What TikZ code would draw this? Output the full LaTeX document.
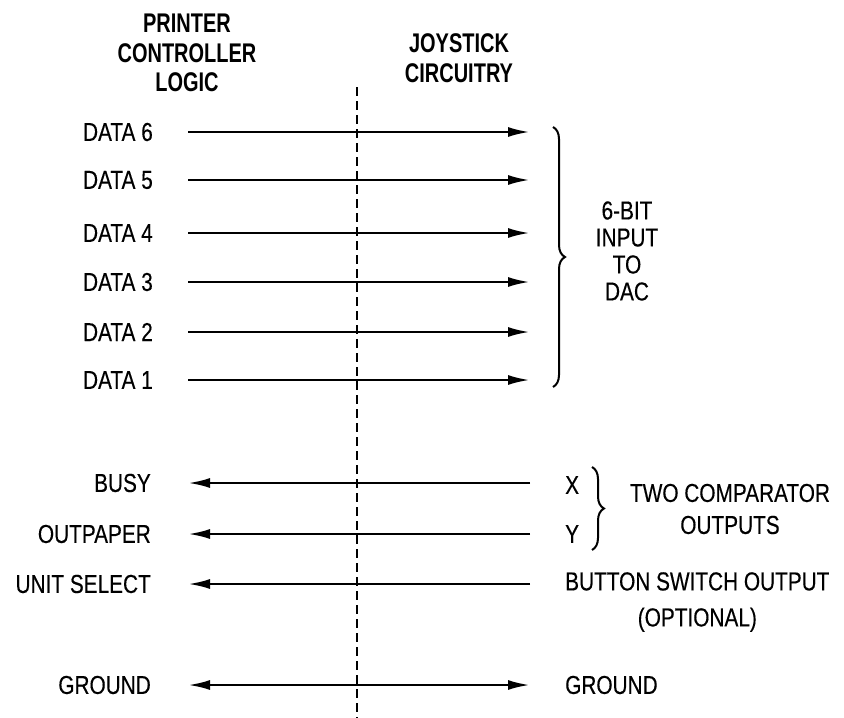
\documentclass[tikz,border=0pt]{standalone}
\usepackage{fontspec}
\setmainfont{Liberation Sans}[FakeStretch=0.8, FakeBold=0.3]
\newfontfamily\headfont{Liberation Sans}[FakeStretch=0.74]
\usetikzlibrary{arrows.meta,decorations.pathreplacing}

\tikzset{
  sig/.style={line width=2.6pt, -{Latex[length=22pt,width=10pt]}},
  lbl/.style={inner sep=0pt, font=\fontsize{26}{30}\selectfont},
  head/.style={inner sep=0pt, align=center, font=\headfont\bfseries\fontsize{27}{29.5}\selectfont},
  brc/.style={line width=2pt, decorate, decoration={brace, amplitude=12pt}},
}

\begin{document}
\begin{tikzpicture}[x=1pt,y=-1pt]
    \useasboundingbox (0,0) rectangle (844,718);

    % Headings
    \node[head] (pcl) at (187,53) {PRINTER\\CONTROLLER\\LOGIC};
    \node[head] (jc) at (459,58) {JOYSTICK\\CIRCUITRY};

    % Boundary between the two sides
    \coordinate (btop) at (357,87);
    \coordinate (bbot) at (357,718);
    \draw[line width=1.4pt, dash pattern=on 9pt off 5pt] (btop) -- (bbot);

    % Data lines to the DAC
    \foreach \n/\y in {6/132,5/180,4/233,3/282,2/332,1/380} {
        \node[lbl, anchor=east] (d\n) at (153,\y) {DATA \n};
        \coordinate (d\n s) at (188,\y);
        \coordinate (d\n e) at (530,\y);
        \draw[sig] (d\n s) -- (d\n e);
    }
    \draw[brc] (553,127) -- (553,387);
    \node[lbl, align=center, font=\fontsize{26}{27}\selectfont] (dac) at (627,251) {6-BIT\\INPUT\\TO\\DAC};

    % Status lines back to the printer
    \foreach \k/\t/\y in {busy/BUSY/483, paper/OUTPAPER/534, unit/UNIT SELECT/584} {
        \node[lbl, anchor=east] (\k) at (151,\y) {\t};
        \coordinate (\k s) at (530,\y);
        \coordinate (\k e) at (188,\y);
        \draw[sig] (\k s) -- (\k e);
    }
    \node[lbl, anchor=west] (x) at (565,485) {X};
    \node[lbl, anchor=west] (y) at (565,534) {Y};
    \draw[brc] (592,467) -- (592,550);
    \node[lbl, align=center, font=\fontsize{26}{32}\selectfont] (cmp) at (730,509) {TWO COMPARATOR\\OUTPUTS};
    \node[lbl, align=center, anchor=west, font=\fontsize{26}{36}\selectfont] (btn) at (565,602) {BUTTON SWITCH OUTPUT\\(OPTIONAL)};

    % Ground
    \node[lbl, anchor=east] (gl) at (151,685) {GROUND};
    \node[lbl, anchor=west] (gr) at (565,685) {GROUND};
    \coordinate (gls) at (188,685);
    \coordinate (gre) at (530,685);
    \draw[sig, {Latex[length=22pt,width=10pt]}-{Latex[length=22pt,width=10pt]}] (gls) -- (gre);
\end{tikzpicture}
\end{document}
